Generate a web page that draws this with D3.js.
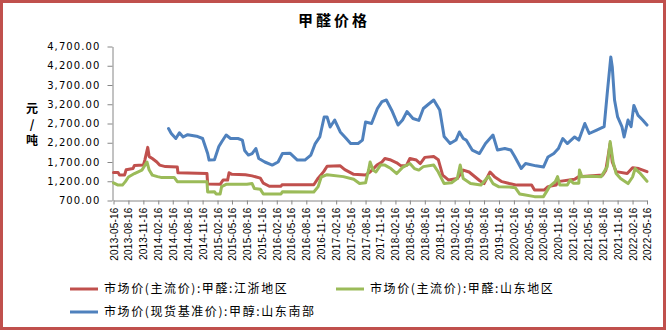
<!DOCTYPE html>
<html><head><meta charset="utf-8">
<script src="https://cdn.jsdelivr.net/npm/d3@7"></script>
<style>body{margin:0;background:#fff} svg{display:block}</style>
</head><body>
<svg id="chart" width="667" height="331"></svg>
<script>
const chartTitle = "甲醛价格";
const yTitleText = "元/吨";
const seriesNames = ["市场价(主流价):甲醛:江浙地区", "市场价(主流价):甲醛:山东地区", "市场价(现货基准价):甲醇:山东南部"];
const seriesColors = ["#c0504d", "#9bbb59", "#4f81bd"];

const xTickLabels = ["2013-05-16","2013-08-16","2013-11-16","2014-02-16","2014-05-16","2014-08-16","2014-11-16","2015-02-16","2015-05-16","2015-08-16","2015-11-16","2016-02-16","2016-05-16","2016-08-16","2016-11-16","2017-02-16","2017-05-16","2017-08-16","2017-11-16","2018-02-16","2018-05-16","2018-08-16","2018-11-16","2019-02-16","2019-05-16","2019-08-16","2019-11-16","2020-02-16","2020-05-16","2020-08-16","2020-11-16","2021-02-16","2021-05-16","2021-08-16","2021-11-16","2022-02-16","2022-05-16"];
const yTickValues = [700, 1200, 1700, 2200, 2700, 3200, 3700, 4200, 4700];

// 甲醛:江浙地区
const jzDates = ["2013-05-16","2013-06-13","2013-06-22","2013-07-23","2013-08-02","2013-09-13","2013-09-22","2013-11-16","2013-11-25","2013-12-13","2013-12-22","2014-01-10","2014-02-07","2014-02-24","2014-04-01","2014-06-13","2014-06-17","2014-12-13","2014-12-17","2015-03-04","2015-03-22","2015-04-19","2015-04-28","2015-05-16","2015-08-07","2015-09-17","2015-11-07","2015-11-25","2016-01-01","2016-03-13","2016-03-19","2016-10-01","2016-10-28","2016-12-01","2016-12-22","2017-03-13","2017-04-10","2017-06-04","2017-08-16","2017-09-13","2017-10-25","2017-11-25","2017-12-13","2018-01-13","2018-02-24","2018-03-22","2018-04-25","2018-05-16","2018-06-25","2018-07-19","2018-08-16","2018-10-10","2018-11-07","2018-12-04","2019-01-10","2019-03-04","2019-04-10","2019-05-16","2019-07-19","2019-08-16","2019-09-22","2019-10-19","2019-12-04","2020-01-19","2020-03-04","2020-04-10","2020-06-04","2020-06-22","2020-08-20","2020-09-13","2020-11-02","2020-11-11","2021-02-24","2021-03-22","2021-08-16","2021-09-04","2021-10-01","2021-10-14","2021-11-07","2022-01-14","2022-02-16","2022-03-26","2022-05-16"];
const jzValues = [1430,1430,1360,1360,1500,1530,1610,1620,1750,2080,1840,1790,1700,1620,1580,1570,1420,1400,1130,1120,1230,1230,1420,1380,1370,1340,1280,1150,1070,1070,1110,1110,1280,1450,1590,1600,1500,1380,1360,1440,1620,1700,1790,1760,1680,1600,1610,1790,1750,1660,1820,1840,1760,1360,1230,1270,1490,1440,1220,1140,1440,1320,1190,1140,1100,1100,1100,970,970,1060,1100,1190,1250,1320,1360,1480,2180,1700,1450,1400,1550,1530,1450];

// 甲醛:山东地区
const sdDates = ["2013-05-16","2013-06-13","2013-07-10","2013-07-28","2013-08-16","2013-09-22","2013-11-07","2013-12-08","2013-12-22","2014-01-10","2014-02-11","2014-03-04","2014-05-25","2014-06-13","2014-12-13","2014-12-17","2015-01-28","2015-02-07","2015-03-04","2015-03-13","2015-04-10","2015-08-16","2015-09-17","2015-10-01","2015-11-07","2015-11-25","2016-03-13","2016-03-22","2016-10-01","2016-10-28","2016-11-16","2016-12-22","2017-04-01","2017-06-04","2017-07-10","2017-08-16","2017-09-04","2017-09-13","2017-10-01","2017-10-19","2017-11-16","2017-12-13","2018-01-19","2018-02-24","2018-04-01","2018-05-16","2018-06-13","2018-07-10","2018-08-07","2018-10-10","2018-11-07","2018-12-13","2019-01-28","2019-03-04","2019-03-22","2019-04-10","2019-05-25","2019-07-28","2019-09-13","2019-10-10","2019-11-16","2020-01-19","2020-02-25","2020-03-22","2020-04-19","2020-06-22","2020-08-16","2020-09-04","2020-09-22","2020-10-28","2020-11-11","2020-11-25","2021-01-10","2021-01-28","2021-02-16","2021-03-22","2021-03-26","2021-04-10","2021-06-13","2021-08-07","2021-09-13","2021-10-01","2021-10-19","2021-11-07","2021-12-04","2022-01-19","2022-02-16","2022-03-04","2022-04-01","2022-05-16"];
const sdValues = [1160,1100,1100,1190,1310,1400,1490,1700,1490,1360,1320,1300,1300,1190,1190,920,930,870,870,1060,1120,1120,1140,1010,990,870,870,930,920,1060,1310,1370,1320,1250,1140,1160,1500,1700,1490,1440,1620,1620,1530,1400,1560,1660,1530,1490,1580,1620,1440,1140,1160,1270,1620,1270,1140,1100,1330,1140,1055,1050,1030,870,850,800,800,930,1060,1190,1320,1100,1100,1230,1150,1150,1490,1320,1330,1320,1580,2230,1700,1400,1270,1140,1310,1530,1420,1200];

// 甲醇:山东南部
const mDates = ["2014-04-20","2014-05-07","2014-06-04","2014-06-26","2014-07-19","2014-08-16","2014-10-10","2014-11-16","2014-12-17","2014-12-26","2015-01-28","2015-02-24","2015-03-13","2015-04-10","2015-05-07","2015-06-22","2015-07-19","2015-08-02","2015-08-25","2015-09-17","2015-10-10","2015-10-28","2015-12-04","2016-01-19","2016-02-24","2016-03-22","2016-05-07","2016-06-22","2016-08-07","2016-09-13","2016-10-10","2016-11-07","2016-12-04","2016-12-22","2017-01-10","2017-02-07","2017-03-13","2017-04-19","2017-05-16","2017-07-01","2017-07-28","2017-08-16","2017-09-22","2017-10-28","2017-11-25","2017-12-22","2018-01-28","2018-03-04","2018-04-01","2018-04-28","2018-06-04","2018-07-10","2018-08-07","2018-09-13","2018-10-10","2018-11-16","2018-12-13","2019-01-19","2019-02-24","2019-03-17","2019-04-10","2019-04-28","2019-06-04","2019-07-19","2019-08-25","2019-10-10","2019-11-07","2019-12-22","2020-01-28","2020-02-20","2020-04-01","2020-04-28","2020-07-01","2020-08-16","2020-09-13","2020-10-19","2020-11-16","2020-12-13","2021-01-10","2021-02-24","2021-03-22","2021-04-28","2021-05-25","2021-07-10","2021-08-25","2021-09-13","2021-10-05","2021-10-14","2021-10-28","2021-11-16","2021-12-13","2021-12-26","2022-01-19","2022-02-07","2022-02-24","2022-03-22","2022-04-19","2022-05-16"];
const mValues = [2570,2440,2310,2460,2350,2410,2370,2310,1920,1750,1760,2100,2220,2400,2310,2310,2270,2000,1880,1920,2050,1790,1700,1620,1700,1920,1930,1750,1750,1880,2180,2350,2870,2870,2610,2790,2480,2310,2180,2180,2270,2740,2700,3090,3270,3310,3010,2660,2790,3010,2830,2780,3090,3220,3310,3050,2360,2180,2270,2480,2310,2270,2010,1920,2180,2400,2010,2050,2010,1850,1530,1660,1600,1570,1830,1920,2050,2310,2180,2350,2270,2700,2440,2530,2620,3480,4430,4170,3310,2870,2610,2350,2790,2620,3170,2910,2790,2660];

const parse = d3.timeParse("%Y-%m-%d");
const fmt = d3.timeFormat("%Y-%m-%d");
const svg = d3.select("#chart");

svg.append("rect").attr("x", 0).attr("y", 0).attr("width", 667).attr("height", 331).attr("fill", "#fff");
svg.append("rect").attr("x", 1.5).attr("y", 1.5).attr("width", 663).attr("height", 327)
  .attr("fill", "none").attr("stroke", "#c0504d").attr("stroke-width", 3);

svg.append("text").attr("x", 334).attr("y", 26).attr("text-anchor", "middle")
  .style("font-family", "'Noto Sans CJK SC', sans-serif").style("font-size", "15px")
  .style("font-weight", "bold").style("letter-spacing", "3px").text(chartTitle);

const x = d3.scaleTime().domain([parse(xTickLabels[0]), parse(xTickLabels[xTickLabels.length - 1])]).range([113.5, 647]);
const y = d3.scaleLinear().domain([700, 4700]).range([200.5, 46.5]);

const yAxis = svg.append("g").attr("transform", "translate(112.5,0)")
  .call(d3.axisLeft(y).tickValues(yTickValues).tickFormat(d3.format(",.2f")).tickSize(5).tickSizeOuter(0).tickPadding(7));
yAxis.selectAll("path,line").attr("stroke", "#868686");
yAxis.selectAll("text").style("font-family", "'DejaVu Sans', sans-serif").style("font-size", "10px")
  .style("letter-spacing", "1.1px").attr("fill", "#000");

const xAxis = svg.append("g").attr("transform", "translate(0,200.5)")
  .call(d3.axisBottom(x).tickValues(xTickLabels.map(parse)).tickFormat(fmt).tickSize(4).tickSizeOuter(0));
xAxis.selectAll("path,line").attr("stroke", "#868686");
xAxis.selectAll("text").attr("transform", "rotate(-90)").attr("x", -7).attr("y", 0).attr("dy", "0.35em")
  .style("text-anchor", "end").style("font-family", "'Liberation Sans', Arial, sans-serif").style("font-size", "10px")
  .style("letter-spacing", "0.2px").attr("fill", "#000");

// vertical axis title as one text, stacked upright
svg.append("text").attr("x", 32).attr("y", 102)
  .style("writing-mode", "vertical-rl").style("text-orientation", "upright")
  .style("font-family", "'Noto Sans CJK SC', sans-serif").style("font-size", "12px").style("font-weight", "bold")
  .style("letter-spacing", "4px").text(yTitleText);

const line = d3.line().x(d => x(d.date)).y(d => y(d.v));
const series = [
  {dates: jzDates, values: jzValues},
  {dates: sdDates, values: sdValues},
  {dates: mDates, values: mValues}
];
series.forEach((s, i) => {
  const data = s.dates.map((d, j) => ({date: parse(d), v: s.values[j]}));
  svg.append("path").datum(data).attr("d", line).attr("fill", "none")
    .attr("stroke", seriesColors[i]).attr("stroke-width", 3)
    .attr("stroke-linejoin", "round").attr("stroke-linecap", "round");
});

const legendPos = [[70, 289], [336, 289], [70, 312]];
const lg = svg.append("g");
seriesNames.forEach((n, i) => {
  const [lx, ly] = legendPos[i];
  lg.append("line").attr("x1", lx).attr("x2", lx + 28).attr("y1", ly).attr("y2", ly)
    .attr("stroke", seriesColors[i]).attr("stroke-width", 3);
  lg.append("text").attr("x", lx + 34).attr("y", ly).attr("dy", "0.35em")
    .style("font-family", "'Noto Sans CJK SC', sans-serif").style("font-size", "12px")
    .style("letter-spacing", "1.6px").text(n);
});
</script>
</body></html>
